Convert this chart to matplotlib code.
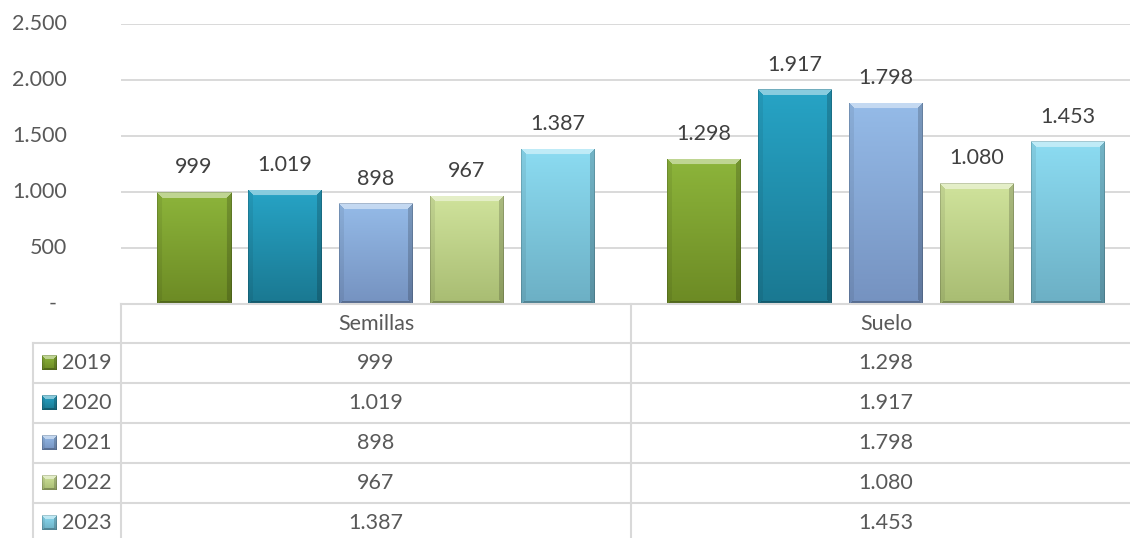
import numpy as np
import matplotlib
matplotlib.use("Agg")
import matplotlib.pyplot as plt
import matplotlib.transforms as mtransforms

categories = ["Semillas", "Suelo"]
years = ["2019", "2020", "2021", "2022", "2023"]
values = {
    "2019": [999, 1298],
    "2020": [1019, 1917],
    "2021": [898, 1798],
    "2022": [967, 1080],
    "2023": [1387, 1453],
}
yticks = [0, 500, 1000, 1500, 2000, 2500]

top_colors = {
    "2019": "#8db53b", "2020": "#27a4c6", "2021": "#95bbe8",
    "2022": "#d0e39c", "2023": "#8cdcf2",
}
bot_colors = {
    "2019": "#6c8a24", "2020": "#1a7891", "2021": "#7592c0",
    "2022": "#a8bc72", "2023": "#6cafc4",
}

plt.rcParams['font.family'] = ['Lato', 'DejaVu Sans']
FS = 15.5
TXT = "#595959"
GRID = "#d9d9d9"

W, H = 1130, 538
fig = plt.figure(figsize=(W / 100, H / 100), dpi=100)
ax = fig.add_axes([121 / W, (H - 304) / H, 1020 / W, 280 / H])
ax.set_xlim(-0.5, 1.5)
ax.set_ylim(0, 2500)
for s in ax.spines.values():
    s.set_visible(False)
ax.set_yticks(yticks)
ax.set_yticklabels([])
ax.set_xticks([])
ax.tick_params(left=False, bottom=False)
ax.yaxis.grid(True, color=GRID, lw=1.4, zorder=0)
ax.set_axisbelow(True)


def fmt(v):
    if v == 0:
        return "-"
    return f"{v:,}".replace(",", ".")


def hex2rgb(h):
    return np.array(matplotlib.colors.to_rgb(h))


def bevel_img(wpx, hpx, top, bot, b=6.0):
    wpx = max(int(round(wpx)), 2)
    hpx = max(int(round(hpx)), 2)
    yy, xx = np.mgrid[0:hpx, 0:wpx] + 0.5
    t = (yy / hpx)[..., None]
    img = hex2rgb(top) * (1 - t) + hex2rgb(bot) * t
    dt = yy
    dl = xx
    dr = wpx - xx
    db = hpx - yy
    bb = min(b, hpx / 2, wpx / 2)
    top_m = (dt < bb) & (dt <= dl) & (dt <= dr)
    left_m = (dl < bb * 0.8) & (dl < dt) & (dl <= db) & ~top_m
    right_m = (dr < bb * 0.8) & (dr < dt) & (dr <= db) & ~top_m
    bot_m = (db < bb * 0.5) & (db < dl) & (db < dr)
    img[top_m] = img[top_m] * 0.55 + 0.45
    img[left_m] = img[left_m] * 0.93
    img[right_m] = img[right_m] * 0.82
    img[bot_m] = img[bot_m] * 0.75
    edge = (dl < 1) | (dr < 1) | (dt < 1)
    img[edge] = img[edge] * 0.85
    return img


step = 91 / 510
bw = 74 / 510
x = np.arange(len(categories))
for k, yr in enumerate(years):
    pos = x + (k - 2) * step
    bars = ax.bar(pos, values[yr], bw, color=bot_colors[yr], zorder=2)
    for rect, v in zip(bars, values[yr]):
        x0 = rect.get_x()
        x1 = x0 + rect.get_width()
        p0 = ax.transData.transform((x0, 0))
        p1 = ax.transData.transform((x1, v))
        img = bevel_img(p1[0] - p0[0], p1[1] - p0[1], top_colors[yr], bot_colors[yr])
        im = ax.imshow(img, extent=(x0, x1, 0, v), origin='upper', aspect='auto',
                       interpolation='bilinear', zorder=3)
        im.set_clip_path(rect)
        ax.annotate(fmt(v), (rect.get_x() + rect.get_width() / 2, v),
                    xytext=(0, 13.5), textcoords='offset points',
                    ha='center', va='baseline', fontsize=FS, color="#404040", zorder=4)
ax.set_xlim(-0.5, 1.5)
ax.set_ylim(0, 2500)

# y tick labels
bt = mtransforms.blended_transform_factory(ax.transAxes, ax.transData)
for v in yticks:
    xr = 57 if v == 0 else 67
    ax.text(-(121 - xr) / 1020, v, fmt(v), transform=bt, ha='right', va='center',
            fontsize=FS, color=TXT, clip_on=False)

# data table in pixel coordinates
tab = fig.add_axes([0, 0, 1, 1])
tab.set_xlim(0, W)
tab.set_ylim(H, 0)
tab.axis('off')
tab.patch.set_alpha(0)
lw = 1.5
x_left, x_mid, x_div, x_right = 33, 121, 631, 1141
y_head, y_row0, row_h = 304, 343, 40
n = len(years)
y_bottom = y_row0 + n * row_h
tab.plot([x_mid, x_right], [y_head, y_head], color=GRID, lw=lw)
for i in range(n + 1):
    yy = y_row0 + i * row_h
    tab.plot([x_left, x_right], [yy, yy], color=GRID, lw=lw)
tab.plot([x_mid, x_mid], [y_head, y_bottom], color=GRID, lw=lw)
tab.plot([x_div, x_div], [y_head, y_bottom], color=GRID, lw=lw)
tab.plot([x_left, x_left], [y_row0, y_bottom], color=GRID, lw=lw)

col_centers = [(x_mid + x_div) / 2, (x_div + x_right) / 2]
for c, cx in zip(categories, col_centers):
    tab.text(cx, (y_head + y_row0) / 2, c, ha='center', va='center', fontsize=FS, color=TXT)
for i, yr in enumerate(years):
    cy = y_row0 + i * row_h + row_h / 2
    kx0, kx1 = 42, 57
    ky0, ky1 = cy - 7.5, cy + 7.5
    img = bevel_img(kx1 - kx0, ky1 - ky0, top_colors[yr], bot_colors[yr], b=4)
    tab.imshow(img, extent=(kx0, kx1, ky1, ky0), origin='upper', aspect='auto',
               interpolation='bilinear', zorder=3)
    tab.text(62, cy, yr, ha='left', va='center', fontsize=FS, color=TXT)
    for v, cx in zip(values[yr], col_centers):
        tab.text(cx, cy, fmt(v), ha='center', va='center', fontsize=FS, color=TXT)
tab.set_xlim(0, W)
tab.set_ylim(H, 0)

fig.savefig("out.png", dpi=100)
